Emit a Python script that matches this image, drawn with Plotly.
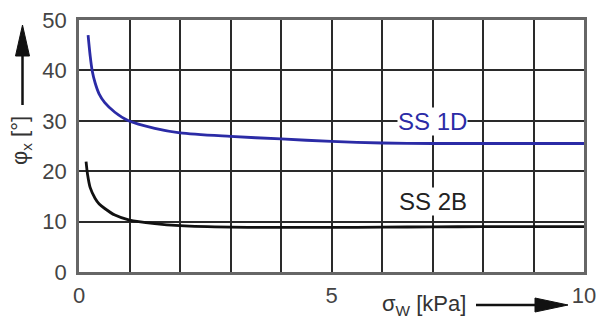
import plotly.graph_objects as go

# Data
sigma_1d = [0.18, 0.22, 0.26, 0.32, 0.4, 0.51, 0.71, 0.98, 1.5, 2.0, 3.0, 4.0, 5.0, 6.0, 7.0, 8.0, 9.0, 10.0]
phi_1d = [47.0, 43.0, 40.0, 37.5, 35.3, 33.6, 31.7, 30.0, 28.5, 27.6, 26.9, 26.4, 25.9, 25.6, 25.5, 25.5, 25.5, 25.5]
sigma_2b = [0.14, 0.17, 0.22, 0.32, 0.4, 0.51, 0.71, 1.0, 1.5, 2.0, 3.0, 4.0, 5.0, 6.0, 7.0, 8.0, 9.0, 10.0]
phi_2b = [21.9, 19.3, 16.8, 14.6, 13.5, 12.6, 11.3, 10.3, 9.6, 9.2, 8.9, 8.85, 8.85, 8.9, 8.95, 9.0, 9.0, 9.0]
x_ticks = [0, 5, 10]
y_ticks = [0, 10, 20, 30, 40, 50]
series_labels = ["SS 1D", "SS 2B"]

BLUE = "#2b2ba6"
FONT = "Liberation Sans, Arial, sans-serif"
W, H = 605, 323
L, R, T, B = 79, 21, 20, 51
PW, PH = W - L - R, H - T - B


def px(x):
    return (x - L) / PW


def py(y):
    return (H - B - y) / PH


fig = go.Figure()
fig.add_trace(go.Scatter(x=sigma_1d, y=phi_1d, mode="lines",
                         line=dict(color=BLUE, width=2.8, shape="spline", smoothing=0.8), showlegend=False))
fig.add_trace(go.Scatter(x=sigma_2b, y=phi_2b, mode="lines",
                         line=dict(color="#111111", width=2.8, shape="spline", smoothing=0.8), showlegend=False))

axis_common = dict(showgrid=True, gridcolor="#2a2a2a", gridwidth=1.6, zeroline=False,
                   showline=True, linecolor="#666666", linewidth=2.5, mirror=True,
                   tickfont=dict(family=FONT, size=22, color="#444444"), ticks="", automargin=False)
fig.update_xaxes(range=[0, 10], tickvals=x_ticks, ticktext=[str(v) for v in x_ticks],
                 minor=dict(dtick=1, showgrid=True, gridcolor="#2a2a2a", gridwidth=1.6, ticks=""),
                 ticklabelstandoff=2, **axis_common)
fig.update_yaxes(range=[0, 50], tickvals=y_ticks, ticktext=[str(v) for v in y_ticks],
                 ticklabelstandoff=5, **axis_common)

# series labels
fig.add_annotation(x=7.0, y=29.8, text=series_labels[0], showarrow=False, bgcolor="white",
                   font=dict(family=FONT, size=24, color=BLUE), borderpad=0)
fig.add_annotation(x=7.0, y=13.9, text=series_labels[1], showarrow=False, bgcolor="white",
                   font=dict(family=FONT, size=24, color="#222222"), borderpad=0)

# axis titles
fig.add_annotation(xref="paper", yref="paper", x=px(21), y=py(141), xanchor="center", yanchor="middle",
                   text="φ<sub>x</sub> [°]", textangle=-90,
                   showarrow=False, font=dict(family=FONT, size=22, color="#333333"))
fig.add_annotation(xref="paper", yref="paper", x=px(424), y=py(305), xanchor="center", yanchor="middle",
                   text="σ<sub>W</sub> [kPa]",
                   showarrow=False, font=dict(family=FONT, size=22, color="#333333"))

# arrows drawn as shapes
fig.add_shape(type="line", xref="paper", yref="paper", x0=px(22.5), x1=px(22.5), y0=py(105), y1=py(50),
              line=dict(color="#111111", width=2.5))
fig.add_shape(type="path", xref="paper", yref="paper",
              path=f"M {px(22.5)} {py(25)} L {px(15.5)} {py(56)} L {px(29.5)} {py(56)} Z",
              fillcolor="#111111", line=dict(color="#111111", width=1))
fig.add_shape(type="line", xref="paper", yref="paper", x0=px(476), x1=px(540), y0=py(305), y1=py(305),
              line=dict(color="#111111", width=2.5))
fig.add_shape(type="path", xref="paper", yref="paper",
              path=f"M {px(568)} {py(305)} L {px(535)} {py(298)} L {px(535)} {py(312)} Z",
              fillcolor="#111111", line=dict(color="#111111", width=1))

fig.update_layout(width=W, height=H, margin=dict(l=L, r=R, t=T, b=B),
                  plot_bgcolor="white", paper_bgcolor="white")
fig.write_html("out.html", config={"displayModeBar": False},
               post_script="document.body.style.margin='0px';document.body.style.overflow='hidden';")
